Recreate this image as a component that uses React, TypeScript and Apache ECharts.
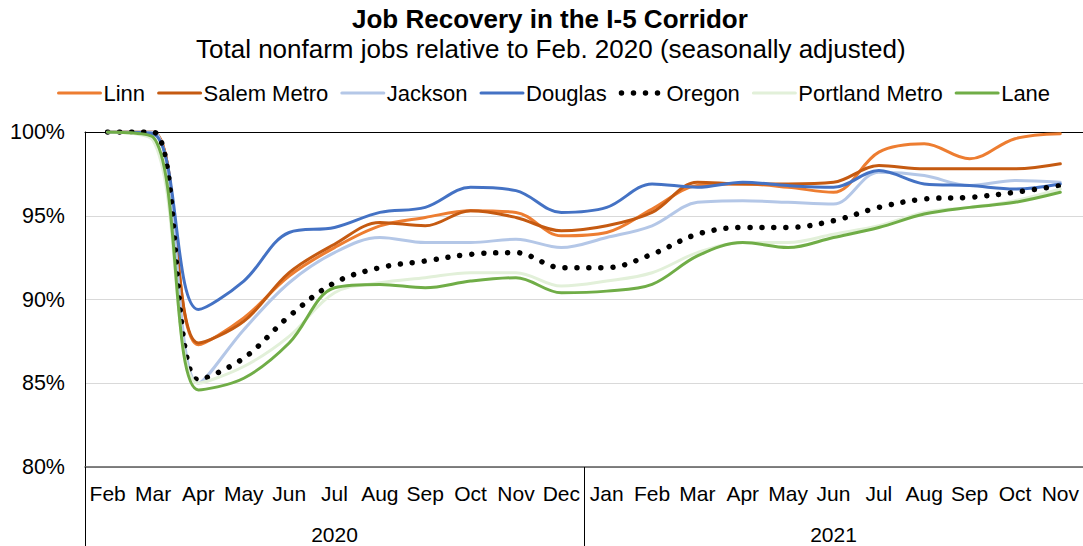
import React, { useEffect, useRef } from "react";
import * as echarts from "echarts";

const months = ["Feb","Mar","Apr","May","Jun","Jul","Aug","Sep","Oct","Nov","Dec","Jan","Feb","Mar","Apr","May","Jun","Jul","Aug","Sep","Oct","Nov"];
const years = ["2020", "2021"];

const linn = [100, 100, 87.3, 88.9, 91.4, 93.1, 94.4, 94.9, 95.3, 95.2, 93.8, 94.0, 95.4, 96.8, 96.9, 96.7, 96.4, 98.8, 99.3, 98.4, 99.6, 99.9];
const salem = [100, 100, 87.4, 88.7, 91.6, 93.3, 94.6, 94.4, 95.3, 94.9, 94.1, 94.4, 95.2, 97.0, 96.9, 96.9, 97.0, 98.0, 97.8, 97.8, 97.8, 98.1];
const jackson = [100, 100, 85.0, 88.2, 91.0, 92.8, 93.7, 93.4, 93.4, 93.6, 93.1, 93.7, 94.4, 95.8, 95.9, 95.8, 95.7, 97.6, 97.4, 96.8, 97.1, 97.0];
const douglas = [100, 99.9, 89.4, 91.1, 94.0, 94.3, 95.2, 95.5, 96.7, 96.5, 95.2, 95.5, 96.9, 96.7, 97.0, 96.8, 96.7, 97.7, 96.9, 96.8, 96.6, 96.9];
const oregon = [100, 100, 85.2, 86.5, 89.0, 91.0, 91.9, 92.3, 92.7, 92.8, 91.9, 91.9, 92.7, 93.9, 94.3, 94.3, 94.7, 95.5, 96.0, 96.1, 96.4, 96.8];
const portland = [100, 99.5, 85.0, 86.0, 87.8, 90.4, 91.0, 91.3, 91.6, 91.6, 90.8, 91.1, 91.6, 92.8, 93.4, 93.4, 93.9, 94.4, 95.2, 95.5, 95.9, 96.6];
const lane = [100, 99.7, 84.6, 85.3, 87.4, 90.7, 90.9, 90.7, 91.1, 91.3, 90.4, 90.5, 90.9, 92.6, 93.4, 93.1, 93.7, 94.3, 95.1, 95.5, 95.8, 96.4];

const seriesDefs = [
  { name: "Linn", data: linn, color: "#ED7D31" },
  { name: "Salem Metro", data: salem, color: "#C55A11" },
  { name: "Jackson", data: jackson, color: "#B4C7E7" },
  { name: "Douglas", data: douglas, color: "#4472C4" },
  { name: "Oregon", data: oregon, color: "#000000", dotted: true },
  { name: "Portland Metro", data: portland, color: "#E2F0D9" },
  { name: "Lane", data: lane, color: "#70AD47" },
];

const FONT = "Liberation Sans, Arial, sans-serif";

const lineStyleFor = (s: any) =>
  s.dotted
    ? { color: s.color, width: 5.5, type: [0.01, 12], cap: "round" }
    : { color: s.color, width: 3, cap: "round" };

export default function App() {
  const ref = useRef<HTMLDivElement>(null);
  useEffect(() => {
    if (!ref.current) return;
    const chart = echarts.init(ref.current, null, { renderer: "svg" });
    chart.setOption({
      animation: false,
      backgroundColor: "#ffffff",
      textStyle: { fontFamily: FONT },
      title: [
        {
          text: "Job Recovery in the I-5 Corridor",
          left: 352,
          top: 6,
          padding: 0,
          textStyle: { fontFamily: FONT, fontSize: 26, fontWeight: "bold", color: "#000" },
        },
        {
          text: "Total nonfarm jobs relative to Feb. 2020 (seasonally adjusted)",
          left: 196,
          top: 36,
          padding: 0,
          textStyle: { fontFamily: FONT, fontSize: 26, fontWeight: "normal", color: "#000" },
        },
      ],
      legend: {
        top: 82,
        left: 57,
        itemWidth: 42,
        itemHeight: 14,
        itemGap: 12,
        padding: 0,
        itemStyle: { opacity: 0, color: "transparent", borderColor: "transparent", borderWidth: 0 },
        textStyle: { fontFamily: FONT, fontSize: 22, color: "#000", padding: [0, 0, 0, -2] },
        data: seriesDefs.map((s) => ({ name: s.name, lineStyle: lineStyleFor(s) })),
      },
      grid: { left: 85, right: 0, top: 132, bottom: 79, containLabel: false },
      xAxis: [
        {
          type: "category",
          data: months,
          position: "bottom",
          boundaryGap: true,
          axisLine: { show: true, lineStyle: { color: "#595959", width: 1.5 } },
          axisTick: {
            show: true,
            interval: (idx: number) => idx === 0 || idx === 11,
            length: 79,
            lineStyle: { color: "#000", width: 1 },
          },
          axisLabel: { interval: 0, fontFamily: FONT, fontSize: 21, color: "#000", margin: 16 },
        },
        {
          type: "category",
          data: years,
          position: "bottom",
          offset: 41,
          axisLine: { show: false },
          axisTick: { show: false },
          axisLabel: { interval: 0, fontFamily: FONT, fontSize: 21, color: "#000", margin: 16 },
        },
        {
          type: "category",
          data: months,
          position: "top",
          axisLine: { show: true, lineStyle: { color: "#000", width: 1 } },
          axisTick: { show: false },
          axisLabel: { show: false },
        },
      ],
      yAxis: {
        type: "value",
        min: 80,
        max: 100,
        interval: 5,
        axisLine: { show: true, lineStyle: { color: "#000", width: 1 } },
        axisTick: { show: false },
        axisLabel: { formatter: "{value}%", fontFamily: FONT, fontSize: 21.5, color: "#000", margin: 20 },
        splitLine: { show: true, lineStyle: { color: "#d9d9d9", width: 1 } },
      },
      series: seriesDefs.map((s) => ({
        name: s.name,
        type: "line",
        data: s.data,
        xAxisIndex: 0,
        smooth: 0.35,
        symbol: "none",
        showSymbol: false,
        color: s.color,
        lineStyle: lineStyleFor(s),
      })),
    });
    return () => chart.dispose();
  }, []);
  return (
    <div
      ref={ref}
      style={{ position: "fixed", left: 0, top: 0, width: 1083, height: 546 }}
    />
  );
}
